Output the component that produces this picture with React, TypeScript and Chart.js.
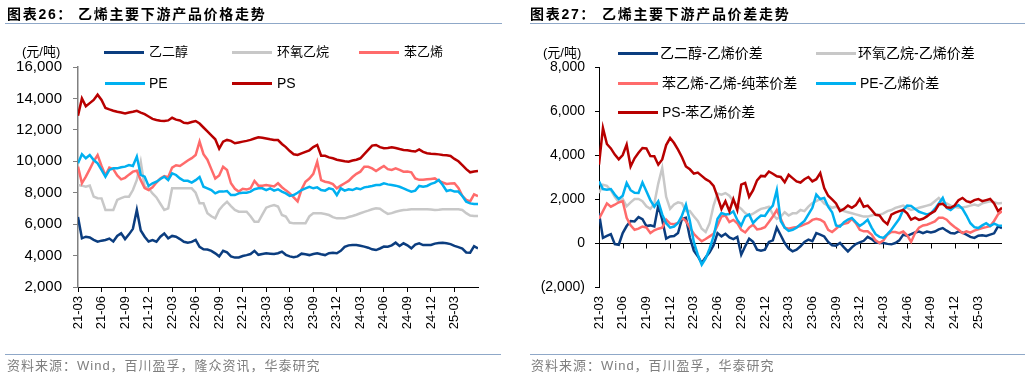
import React, { useEffect, useRef } from 'react';
import { Chart, registerables } from 'chart.js';

Chart.register(...registerables);

// quarterly tick labels (x value = months since 2021-03)
const xTickLabels = ['21-03', '21-06', '21-09', '21-12', '22-03', '22-06', '22-09', '22-12', '23-03', '23-06', '23-09', '23-12', '24-03', '24-06', '24-09', '24-12', '25-03'];

// ---- Chart 26: prices (元/吨), semi-monthly observations from 2021-03 ----
const priceEG = [
  6450, 5100, 5200, 5150, 5000, 4880, 4950, 4990, 5080, 4900, 5250, 5420,
  5050, 5350, 5700, 6900, 5600, 5200, 4900, 4980, 4880, 5200, 5400, 5100,
  5250, 5200, 5050, 4880, 4820, 4870, 5000, 4550, 4400, 4380, 4300, 4140,
  3950, 4300, 4200, 3950, 3870, 3880, 3970, 4030, 4100, 4300, 4050, 4100,
  4140, 4120, 4100, 4150, 4250, 4050, 3950, 3900, 3950, 4120, 4080, 4030,
  4100, 4140, 4080, 4030, 4150, 4180, 4150, 4300, 4550, 4650, 4680, 4670,
  4620, 4570, 4500, 4400, 4350, 4450, 4570, 4560, 4650, 4820, 4610, 4780,
  4650, 4460, 4700, 4780, 4670, 4680, 4670, 4760, 4800, 4820, 4780, 4730,
  4620, 4540, 4450, 4200, 4180, 4600, 4460,
];
const priceEO = [
  8490, 8450, 8380, 8450, 7750, 7650, 7640, 6900, 6900, 6900, 7540, 7650,
  7750, 7750, 8170, 8810, 9970, 8380, 8280, 7950, 7700, 7300, 6900, 7000,
  8280, 8280, 8280, 8280, 8280, 8280, 8000, 7330, 7330, 6700, 6500, 6370,
  6900, 7200, 7430, 7150, 6900, 6790, 6790, 6790, 6500, 6150, 6150, 6600,
  7050, 7150, 7220, 7120, 6580, 6480, 6100, 6050, 6050, 6050, 6050, 6500,
  6690, 6690, 6690, 6650, 6580, 6450, 6370, 6370, 6370, 6450, 6520, 6600,
  6690, 6780, 6860, 6950, 7010, 6980, 6800, 6650, 6700, 6790, 6850, 6900,
  6920, 6950, 6950, 6950, 6950, 6950, 6930, 6900, 6920, 6950, 6950, 6950,
  6950, 6950, 6900, 6700, 6550, 6520, 6520,
];
const priceSM = [
  9660, 8600, 9020, 9500, 10000, 10400, 9700, 9100, 9600, 9500, 9100, 8850,
  8950, 9150, 9340, 9400, 8800, 8300, 8170, 8350, 8650, 8900, 9060, 8980,
  9600, 9750, 9700, 9870, 10050, 10200, 10400, 11250, 10450, 10100, 9500, 8900,
  9100, 9650, 9450, 8600, 8250, 8070, 8250, 8200, 8280, 8750, 8450, 8450,
  8490, 8450, 8400, 8600, 8350, 8150, 7960, 7700, 7450, 8200, 8700, 8900,
  9200, 9970, 8800, 8700, 8650, 8550, 8280, 8450, 8600, 8750, 9000, 9200,
  9340, 9650, 9650, 9550, 9380, 9550, 9700, 9500, 9450, 9550, 9450, 9340,
  9350, 9300, 8910, 8820, 8820, 8850, 8880, 8910, 8750, 8650, 8560, 8580,
  8600, 8300, 7800, 7550, 7450, 7900, 7790,
];
const pricePE = [
  9870, 10450, 10190, 10400, 10080, 9870, 9450, 9020, 9450, 9550, 9550, 9620,
  9660, 9760, 9700, 10300, 9130, 9020, 8430, 8600, 8700, 8870, 9020, 8800,
  9230, 9130, 8910, 8760, 8760, 8640, 8800, 9000, 8380, 8280, 8170, 7960,
  8070, 8070, 8110, 7850, 7850, 7960, 8000, 8000, 8070, 8220, 8280, 8280,
  8170, 8280, 8130, 8220, 8070, 7960, 7790, 7850, 8000, 8170, 8280, 8380,
  8280, 8340, 8170, 8130, 8280, 8220, 7850, 8280, 8130, 8220, 8170, 8280,
  8220, 8340, 8380, 8430, 8490, 8490, 8600, 8530, 8490, 8450, 8380, 8280,
  8170, 8070, 8130, 8430, 8380, 8430, 8560, 8640, 8810, 8490, 8110, 8170,
  8070, 8070, 7790, 7430, 7320, 7280, 7280,
];
const pricePS = [
  12900, 14000, 13500, 13700, 13900, 14240, 13900, 13390, 13300, 13220, 13150, 13100,
  13050, 13100, 13150, 13210, 13100, 13000, 12850, 12700, 12630, 12580, 12560, 12600,
  12770, 12650, 12600, 12450, 12420, 12500, 12560, 12400, 12150, 11900, 11650, 11400,
  10800, 11250, 11360, 11300, 11150, 11200, 11250, 11300, 11360, 11450, 11530, 11500,
  11450, 11400, 11360, 11350, 11100, 10900, 10650, 10450, 10400, 10500, 10600, 10700,
  10900, 11040, 10350, 10350, 10250, 10190, 10100, 10050, 10000, 9970, 10050, 10100,
  10190, 10450, 10720, 11000, 11040, 10900, 10830, 10850, 10890, 10850, 10780, 10720,
  10700, 10650, 10620, 10760, 10600, 10510, 10480, 10460, 10440, 10400, 10380, 10340,
  10150, 10000, 9750, 9500, 9300, 9350, 9380,
];

// ---- Chart 27: spreads (元/吨), semi-monthly observations from 2021-03 ----
const spreadEG = [
  1360, 230, 320, 400, -50, -80, 450, 770, 1000, 980, 1180, 1080,
  770, 800, 750, 1700, 1060, 200, 300, 320, 450, 1100, 1150, 250,
  -350, -600, -910, -650, -420, -100, 450, 300, 420, 250, 180, 280,
  -530, -150, 200, 50, -300, -350, -300, 50, 120, 700, 350, 0,
  -250, -380, -300, -150, 50, 150, 80, 450, 380, 300, 50, -100,
  -120, 0, -200, -380, -200, -50, 30, 100, 280, 180, 30, 0,
  0, -40, -60, 0, 120, 380, 320, 400, 480, 520, 450, 520,
  480, 520, 620, 680, 560, 450, 430, 530, 470, 380, 280, 230,
  330, 350, 320, 380, 440, 760, 680,
];
const spreadEO = [
  2270, 2650, 2600, 2400, 2100, 1850, 2000, 1670, 1850, 2000, 2000, 1900,
  1670, 1550, 1800, 2700, 3410, 2100, 1550, 1750, 1850, 1800, 1450, 1450,
  1220, 1000, 650, 500, 900, 1700, 2250, 2200, 2270, 2150, 1900, 1700,
  1550, 1360, 1250, 1330, 1450, 1550, 1590, 1650, 1300, 1100, 1200, 1400,
  1250, 1350, 1350, 1500, 1450, 1650, 1820, 1900, 2000, 1800, 1700, 1600,
  1650, 1550, 1450, 1400, 1350, 1300, 1250, 1200, 1200, 1250, 1300, 1280,
  1350, 1450, 1500, 1600, 1650, 1700, 1600, 1500, 1550, 1600, 1650, 1700,
  1750, 1900, 2050, 1850, 1800, 1700, 1650, 1600, 1620, 1650, 1700, 1750,
  1700, 1800, 1850, 1900, 1850, 1800, 1820,
];
const spreadSM = [
  1100, 1450, 1800, 1650, 1740, 1850, 1900, 1150, 800, 600, 650, 750,
  700, 450, 580, 650, 700, 1060, 880, 850, 910, 1150, 1000, 700,
  420, 230, 80, 180, 300, 420, 800, 1200, 1250, 950, 1050, 900,
  600, 480, 700, 830, 620, 650, 720, 950, 1200, 1500, 1100, 700,
  650, 700, 730, 770, 850, 910, 1050, 1100, 1060, 950, 600, 500,
  650, 800, 870, 910, 1100, 900, 600, 530, 530, 380, 120, 0,
  120, 380, 500, 500, 450, 520, 350, 50, 450, 700, 800, 830,
  900, 980, 1150, 1150, 1060, 870, 730, 600, 450, 530, 470, 560,
  620, 680, 720, 770, 1000, 1300, 1450,
];
const spreadPE = [
  2800, 2450, 2420, 2450, 2200, 2000, 2150, 2730, 2400, 2280, 2270, 2750,
  2350, 1950, 1650, 1900, 1300, 900, 700, 750, 910, 1250, 1740, 1000,
  50, -530, -990, -700, -250, 300, 1100, 1360, 1300, 1320, 1440, 1050,
  800, 1200, 1300, 910, 1100, 1250, 1230, 1500, 1700, 2400, 1000, 700,
  550, 600, 700, 850, 1000, 1300, 1600, 2200, 2000, 2050, 1650, 1400,
  800, 750, 950, 1060, 1140, 950, 780, 900, 1060, 700, 400, 280,
  230, 400, 600, 850, 1100, 1510, 1700, 1680, 1550, 1420, 1360, 1300,
  1350, 1550, 1800, 2050, 1600, 1500, 1650, 1720, 1550, 1250, 900, 720,
  680, 800, 900, 770, 880, 800, 780,
];
const spreadPS = [
  3560, 5230, 4500, 4300, 4020, 3800, 4000, 4470, 3480, 3850, 4100, 4320,
  4300, 3950, 3940, 3560, 3800, 4450, 4770, 4545, 4240, 3900, 3480, 3350,
  3150, 3200, 3050, 2900, 2800, 2600, 2100, 1550, 1900, 1450, 2000, 1500,
  2650, 2730, 2100, 2400, 2850, 3050, 3030, 3250, 3150, 3030, 3000, 2760,
  3100, 2950, 2800, 2750, 2900, 3000, 2800, 2900, 3180, 2500, 2150, 1980,
  1800, 1450, 1550, 1700, 1600, 1720, 2000, 1650, 1700, 1500, 1280, 1250,
  1000, 850, 1290, 1380, 1450, 1500, 1350, 1060, 1150, 1050, 1100, 1210,
  1350, 1450, 1750, 1780, 1620, 1600, 1700, 1950, 2050, 1900, 1850, 1950,
  2000, 1900, 1950, 2000, 1800, 1450, 1600,
];

const namesLeft = ['乙二醇', '环氧乙烷', '苯乙烯', 'PE', 'PS'];
const namesRight = ['乙二醇-乙烯价差', '环氧乙烷-乙烯价差', '苯乙烯-乙烯-纯苯价差', 'PE-乙烯价差', 'PS-苯乙烯价差'];
const colors = ['#0B3D7F', '#C8C8C8', '#FF6B6B', '#00B0F0', '#B80000'];

const AX_FONT = '"Liberation Sans", Arial, sans-serif';
const TXT_FONT = '"Liberation Sans", "Noto Sans CJK SC", sans-serif';

const toXY = (arr: number[]) => arr.map((v, i) => ({ x: i / 2, y: v }));
const fmtNum = (v: number) => (v < 0 ? `(${Math.abs(v).toLocaleString('en-US')})` : v.toLocaleString('en-US'));

function makeDatasets(series: number[][], names: string[]) {
  return series.map((d, i) => ({
    label: names[i],
    data: toXY(d),
    borderColor: colors[i],
    backgroundColor: colors[i],
    borderWidth: 2.5,
    pointRadius: 0,
    tension: 0,
    fill: false,
    order: 5 - i,
  }));
}

function xScale(showLine: boolean) {
  return {
    type: 'linear',
    min: 0,
    max: 51,
    afterBuildTicks: (s: any) => {
      s.ticks = xTickLabels.map((_, i) => ({ value: i * 3 }));
    },
    afterFit: (s: any) => {
      s.height = 91;
    },
    grid: {
      display: true,
      drawOnChartArea: false,
      drawTicks: true,
      tickLength: 5,
      color: showLine ? '#000' : 'rgba(0,0,0,0)',
    },
    border: { display: showLine, color: '#000', width: 1 },
    ticks: {
      autoSkip: false,
      minRotation: 90,
      maxRotation: 90,
      padding: 4,
      color: '#000',
      font: { family: AX_FONT, size: 13 },
      callback: (v: any) => xTickLabels[Math.round(Number(v) / 3)] ?? '',
    },
  };
}

const zeroLinePlugin = {
  id: 'zeroLine',
  beforeDatasetsDraw(chart: any) {
    const { ctx, chartArea, scales } = chart;
    const y0 = Math.round(scales.y.getPixelForValue(0)) + 0.5;
    ctx.save();
    ctx.strokeStyle = '#000';
    ctx.lineWidth = 1;
    ctx.beginPath();
    ctx.moveTo(chartArea.left, y0);
    ctx.lineTo(chartArea.right, y0);
    scales.x.ticks.forEach((t: any) => {
      const x = Math.round(scales.x.getPixelForValue(t.value)) + 0.5;
      ctx.moveTo(x, y0);
      ctx.lineTo(x, y0 + 5);
    });
    ctx.stroke();
    ctx.restore();
  },
};

function LegendItem(props: { x: number; y: number; color: string; label: string; size: number; gap?: number }) {
  const { x, y, color, label, size, gap = 5 } = props;
  return (
    <div style={{ position: 'absolute', left: x, top: y - 10, height: 20, display: 'flex', alignItems: 'center', whiteSpace: 'nowrap' }}>
      <span style={{ display: 'inline-block', width: 40, height: 3, background: color, marginRight: gap }} />
      <span style={{ fontFamily: TXT_FONT, fontSize: size, color: '#000', lineHeight: '20px' }}>{label}</span>
    </div>
  );
}

const abs = (l: number, t: number): React.CSSProperties => ({ position: 'absolute', left: l, top: t, whiteSpace: 'nowrap' });

export default function App() {
  const leftRef = useRef<HTMLCanvasElement>(null);
  const rightRef = useRef<HTMLCanvasElement>(null);

  useEffect(() => {
    const left = new Chart(leftRef.current as HTMLCanvasElement, {
      type: 'line',
      data: { datasets: makeDatasets([priceEG, priceEO, priceSM, pricePE, pricePS], namesLeft) as any },
      options: {
        responsive: false,
        animation: false,
        events: [],
        layout: { padding: { top: 67, right: 37, left: 0, bottom: 0 } },
        plugins: { legend: { display: false }, tooltip: { enabled: false } },
        scales: {
          x: xScale(true) as any,
          y: {
            min: 2000,
            max: 16000,
            afterFit: (s: any) => {
              s.width = 78;
            },
            grid: { display: true, drawOnChartArea: false, drawTicks: true, tickLength: 5, color: '#808080' },
            border: { display: true, color: '#808080', width: 1.5 },
            ticks: {
              stepSize: 2000,
              padding: 11,
              color: '#000',
              font: { family: AX_FONT, size: 15 },
              callback: (v: any) => fmtNum(Number(v)),
            },
          },
        },
      },
    });

    const right = new Chart(rightRef.current as HTMLCanvasElement, {
      type: 'line',
      data: { datasets: makeDatasets([spreadEG, spreadEO, spreadSM, spreadPE, spreadPS], namesRight) as any },
      options: {
        responsive: false,
        animation: false,
        events: [],
        layout: { padding: { top: 67, right: 28, left: 0, bottom: 0 } },
        plugins: { legend: { display: false }, tooltip: { enabled: false } },
        scales: {
          x: xScale(false) as any,
          y: {
            min: -2000,
            max: 8000,
            afterFit: (s: any) => {
              s.width = 84;
            },
            grid: { display: true, drawOnChartArea: false, drawTicks: true, tickLength: 4, color: '#000' },
            border: { display: true, color: '#000', width: 1 },
            ticks: {
              stepSize: 2000,
              padding: 10,
              color: '#000',
              font: { family: AX_FONT, size: 14 },
              callback: (v: any) => fmtNum(Number(v)),
            },
          },
        },
      },
      plugins: [zeroLinePlugin],
    });

    return () => {
      left.destroy();
      right.destroy();
    };
  }, []);

  const titleStyle: React.CSSProperties = { fontFamily: TXT_FONT, fontWeight: 700, fontSize: 14, letterSpacing: 1.7, lineHeight: '20px', color: '#000' };
  const footStyle: React.CSSProperties = { fontFamily: TXT_FONT, fontSize: 13, letterSpacing: 1, lineHeight: '20px', color: '#7F7F7F' };
  const unitStyle: React.CSSProperties = { fontFamily: TXT_FONT, fontSize: 13, lineHeight: '20px', color: '#000' };
  const rule = '#8FA8C8';

  return (
    <div style={{ position: 'absolute', left: 0, top: 0, width: 1030, height: 378, background: '#fff', overflow: 'hidden' }}>
      <canvas ref={leftRef} width={515} height={378} style={{ position: 'absolute', left: 0, top: 0 }} />
      <canvas ref={rightRef} width={515} height={378} style={{ position: 'absolute', left: 515, top: 0 }} />

      {/* left panel texts */}
      <div style={{ ...abs(7, 4), ...titleStyle }}>图表26：</div>
      <div style={{ ...abs(78, 4), ...titleStyle }}>乙烯主要下游产品价格走势</div>
      <div style={{ position: 'absolute', left: 5, top: 23, width: 497, height: 1, background: rule }} />
      <div style={{ ...abs(22, 42), ...unitStyle }}>(元/吨)</div>
      <LegendItem x={104} y={52} color={colors[0]} label={namesLeft[0]} size={13} />
      <LegendItem x={232} y={52} color={colors[1]} label={namesLeft[1]} size={13} />
      <LegendItem x={359} y={52} color={colors[2]} label={namesLeft[2]} size={13} />
      <LegendItem x={105} y={83} color={colors[3]} label={namesLeft[3]} size={14} gap={4} />
      <LegendItem x={232} y={83} color={colors[4]} label={namesLeft[4]} size={14} />
      <div style={{ position: 'absolute', left: 5, top: 354, width: 496, height: 1, background: rule }} />
      <div style={{ ...abs(7, 356), ...footStyle }}>资料来源：Wind，百川盈孚，隆众资讯，华泰研究</div>

      {/* right panel texts */}
      <div style={{ ...abs(530, 4), ...titleStyle }}>图表27：</div>
      <div style={{ ...abs(602, 4), ...titleStyle }}>乙烯主要下游产品价差走势</div>
      <div style={{ position: 'absolute', left: 530, top: 23, width: 495, height: 1, background: rule }} />
      <div style={{ ...abs(543, 43), ...unitStyle }}>(元/吨)</div>
      <LegendItem x={618} y={53} color={colors[0]} label={namesRight[0]} size={14} gap={2} />
      <LegendItem x={816} y={53} color={colors[1]} label={namesRight[1]} size={14} gap={2} />
      <LegendItem x={618} y={83} color={colors[2]} label={namesRight[2]} size={14} gap={4} />
      <LegendItem x={816} y={83} color={colors[3]} label={namesRight[3]} size={14} gap={4} />
      <LegendItem x={618} y={112} color={colors[4]} label={namesRight[4]} size={14} gap={4} />
      <div style={{ position: 'absolute', left: 530, top: 354, width: 495, height: 1, background: rule }} />
      <div style={{ ...abs(531, 356), ...footStyle }}>资料来源：Wind，百川盈孚，华泰研究</div>
    </div>
  );
}
